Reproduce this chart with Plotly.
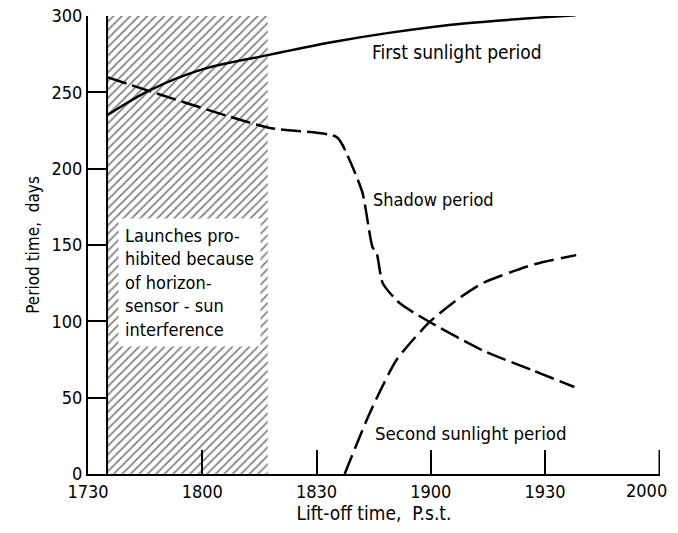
import plotly.graph_objects as go

# minutes after 17:30 (lift-off time, P.s.t.)
tick_vals = [0, 30, 60, 90, 120, 150]
tick_text = ["1730", "1800", "1830", "1900", "1930", "2000"]
y_ticks = [0, 50, 100, 150, 200, 250, 300]

first_t = [5, 16.3, 29.4, 47.2, 64.3, 79, 99.4, 128]
first_v = [235, 251.5, 264.6, 274.4, 283, 289, 295.3, 300.5]

shadow_t = [5, 47.2, 65.3, 68.7, 72.1, 74.7, 75.8, 77.4, 81.8, 89.7, 103.6, 116.7, 127.7]
shadow_v = [260, 227, 220.7, 205.6, 184, 148.7, 144.7, 125, 112, 99.6, 81, 68, 57]

second_t = [67.4, 74, 81, 89.7, 96.8, 103.6, 116.7, 128.2]
second_v = [0, 40, 74.7, 99.6, 114, 125, 137, 143.4]

prohibited_t = [5, 47.2]   # 17:35 to 18:17
ymax = 300

FONT = "DejaVu Sans Condensed, Liberation Sans Narrow, sans-serif"

fig = go.Figure()

# hatched prohibited region
fig.add_trace(go.Scatter(
    x=[prohibited_t[0], prohibited_t[1], prohibited_t[1], prohibited_t[0], prohibited_t[0]],
    y=[0, 0, ymax, ymax, 0],
    fill="toself", mode="lines", line=dict(width=0, color="black"),
    fillcolor="white",
    fillpattern=dict(shape="/", fgcolor="black", bgcolor="white", size=6, solidity=0.28),
    hoverinfo="skip", showlegend=False))
# left border of the region
fig.add_trace(go.Scatter(x=[prohibited_t[0], prohibited_t[0]], y=[0, ymax], mode="lines",
                         line=dict(color="black", width=2), showlegend=False, hoverinfo="skip"))

fig.add_trace(go.Scatter(x=first_t, y=first_v, mode="lines", line=dict(color="black", width=2.5, shape="spline"),
                         showlegend=False, cliponaxis=False))
fig.add_trace(go.Scatter(x=shadow_t, y=shadow_v, mode="lines",
                         line=dict(color="black", width=2.5, dash="20px,6px", shape="spline", smoothing=0.6),
                         showlegend=False, cliponaxis=False))
fig.add_trace(go.Scatter(x=second_t, y=second_v, mode="lines",
                         line=dict(color="black", width=2.5, dash="20px,7px", shape="spline", smoothing=0.6),
                         showlegend=False, cliponaxis=False))

fig.add_annotation(x=7.9, y=167.6, xref="x", yref="y", xanchor="left", yanchor="top", align="left",
                   showarrow=False, bgcolor="white", borderpad=6,
                   text="Launches pro-<br>hibited because<br>of horizon-<br>sensor - sun<br>interference",
                   font=dict(family=FONT, size=18, color="black"))

fig.add_annotation(x=74.0, y=276.4, xref="x", yref="y", xanchor="left", showarrow=False,
                   text="First sunlight period", font=dict(family=FONT, size=19, color="black"))
fig.add_annotation(x=74.2, y=180, xref="x", yref="y", xanchor="left", showarrow=False,
                   text="Shadow period", font=dict(family=FONT, size=18, color="black"))
fig.add_annotation(x=74.8, y=26.5, xref="x", yref="y", xanchor="left", showarrow=False,
                   text="Second sunlight period", font=dict(family=FONT, size=18.5, color="black"))

# last tick label sits flush with the page edge, as in the reference
fig.add_annotation(x=tick_vals[-1], y=0, xref="x", yref="y", xanchor="right", yanchor="top",
                   yshift=-4, xshift=10, showarrow=False, text=tick_text[-1],
                   font=dict(family=FONT, size=18, color="black"))
# tick mark at the right end of the time axis
fig.add_shape(type="line", xref="x", yref="y", x0=tick_vals[-1], x1=tick_vals[-1],
              ysizemode="pixel", yanchor=0, y0=0, y1=24, line=dict(color="black", width=1.5))

# the page body has an 8px margin; figure is sized to fit the window and margins place the plot area
fig.update_layout(
    width=670, height=525,
    margin=dict(l=80, r=18, t=8, b=59),
    paper_bgcolor="white", plot_bgcolor="white",
    font=dict(family=FONT, size=18, color="black"),
    xaxis=dict(range=[0, 150.2], tickvals=tick_vals, ticktext=tick_text[:-1] + [""], ticks="inside", ticklen=24,
               tickwidth=1.5, tickcolor="black", showline=True, linecolor="black", linewidth=2,
               showgrid=False, zeroline=False, automargin=False,
               title=dict(text="Lift-off time,  P.s.t.", font=dict(size=19), standoff=4)),
    yaxis=dict(range=[0, 300.05], tickvals=y_ticks, ticks="inside", ticklen=18,
               tickwidth=1.5, tickcolor="black", showline=True, linecolor="black", linewidth=2,
               showgrid=False, zeroline=False, automargin=False, ticklabeloverflow="allow",
               title=dict(text="Period time,  days", font=dict(size=17), standoff=8)),
)

fig.write_html("out.html")
